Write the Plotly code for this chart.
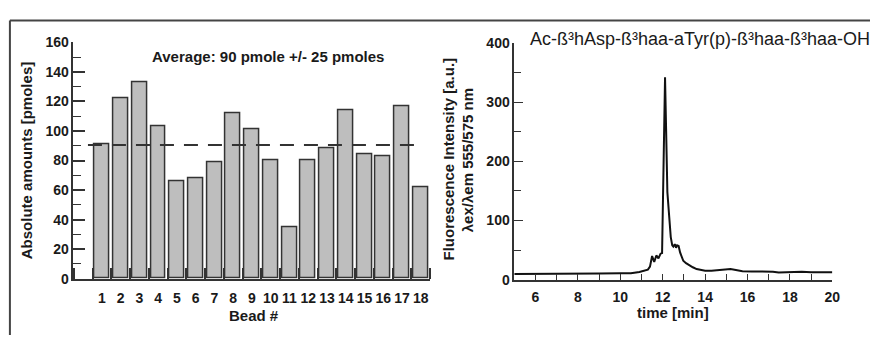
import plotly.graph_objects as go

# ---- Left panel data ----
beads = list(range(1, 19))
amounts = [91, 122, 133, 103, 66, 68, 79, 112, 101, 80, 35, 80, 88, 114, 84, 83, 117, 62]
average_level = 90.5
average_span = [0.25, 17.85]
left_yticks = [0, 20, 40, 60, 80, 100, 120, 140, 160]

# ---- Right panel data ----
time_min = [5.0, 6.0, 7.0, 7.5, 8.0, 9.0, 10.0, 10.5, 10.9, 11.1, 11.3, 11.4, 11.5, 11.6,
            11.7, 11.8, 11.9, 11.97, 12.03, 12.08, 12.11, 12.16, 12.22, 12.31, 12.38, 12.45,
            12.5, 12.57, 12.63, 12.68, 12.75, 12.82, 12.9, 12.97, 13.1, 13.25, 13.42, 13.6,
            13.8, 14.0, 14.3, 14.67, 15.0, 15.2, 15.45, 15.76, 16.2, 16.6, 17.0, 17.2, 17.47,
            17.8, 18.2, 18.56, 19.0, 19.5, 20.0]
intensity = [9.5, 9.5, 10, 10.5, 10.5, 10.5, 10.8, 11, 13, 15, 17, 22, 40, 30,
             41, 36, 44, 45, 170, 300, 342, 255, 148, 105, 72, 58,
             56, 60, 54, 58, 57, 46, 38, 32, 28, 24, 21, 18,
             16, 15, 15, 16, 16.5, 18, 16.5, 14.5, 14, 14, 14.5, 13.5, 12,
             12.5, 13, 13.4, 12.5, 13, 12.4]
right_yticks = [0, 100, 200, 300, 400]
right_xticks = [6, 8, 10, 12, 14, 16, 18, 20]

FONT = "Arial, Liberation Sans, sans-serif"
DARK = "#333333"
TXT = "#1a1a1a"

fig = go.Figure()

fig.add_trace(go.Bar(
    x=beads, y=amounts, width=0.79,
    marker=dict(color="#BEBEBE", line=dict(color=DARK, width=1.5)),
    xaxis="x", yaxis="y", showlegend=False, hoverinfo="skip",
))
fig.add_trace(go.Scatter(
    x=average_span, y=[average_level, average_level], mode="lines",
    line=dict(color=DARK, width=2, dash="14px,10px"),
    xaxis="x", yaxis="y", showlegend=False, hoverinfo="skip",
))
fig.add_trace(go.Scatter(
    x=time_min, y=intensity, mode="lines",
    line=dict(color="#111111", width=2),
    xaxis="x2", yaxis="y2", showlegend=False, hoverinfo="skip",
))

W, H = 878, 343
tickfont = dict(family=FONT, size=14, color=TXT, weight="bold")

fig.update_layout(
    width=W, height=H,
    margin=dict(l=0, r=0, t=0, b=0),
    paper_bgcolor="white", plot_bgcolor="white",
    bargap=0,
    xaxis=dict(
        domain=[74 / W, 434 / W], range=[-0.53, 18.5],
        tickmode="array", tickvals=beads, ticktext=[str(b) for b in beads],
        ticks="", showgrid=False, zeroline=False,
        showline=True, linecolor=DARK, linewidth=1.5,
        tickfont=tickfont, ticklabelstandoff=6,
        minor=dict(tick0=0.5, dtick=1, ticks="inside", ticklen=11,
                   tickcolor=DARK, tickwidth=1.5, showgrid=False),
        anchor="y",
    ),
    yaxis=dict(
        domain=[1 - 284 / H, 1 - 36 / H], range=[0, 160],
        tickmode="array", tickvals=left_yticks,
        ticks="inside", ticklen=12, tickcolor=DARK, tickwidth=1.5,
        showgrid=False, zeroline=False,
        showline=True, linecolor=DARK, linewidth=1.5,
        tickfont=tickfont,
        minor=dict(dtick=10, tick0=0, ticks="inside", ticklen=8,
                   tickcolor=DARK, tickwidth=1.2, showgrid=False),
        anchor="x",
    ),
    xaxis2=dict(
        domain=[519 / W, 840 / W], range=[5, 20],
        tickmode="array", tickvals=right_xticks,
        ticks="inside", ticklen=6, tickcolor=DARK, tickwidth=1.2,
        showgrid=False, zeroline=False,
        showline=True, linecolor=DARK, linewidth=1.5,
        tickfont=tickfont, ticklabelstandoff=4,
        minor=dict(dtick=1, tick0=5, ticks="inside", ticklen=6,
                   tickcolor=DARK, tickwidth=1.2, showgrid=False),
        anchor="y2",
    ),
    yaxis2=dict(
        domain=[1 - 285 / H, 1 - 36.7 / H], range=[0, 400],
        tickmode="array", tickvals=right_yticks,
        ticks="inside", ticklen=9, tickcolor=DARK, tickwidth=1.2,
        showgrid=False, zeroline=False,
        showline=True, linecolor=DARK, linewidth=1.5,
        tickfont=tickfont,
        minor=dict(dtick=50, tick0=0, ticks="inside", ticklen=7,
                   tickcolor=DARK, tickwidth=1.2, showgrid=False),
        anchor="x2",
    ),
)

bold = dict(family=FONT, size=15, color=TXT, weight="bold")
annots = [
    dict(text="Average: 90 pmole +/- 25 pmoles", x=270 / W, y=1 - 51 / H, font=bold),
    dict(text="Bead #", x=256 / W, y=1 - 323 / H, font=bold),
    dict(text="Absolute amounts [pmoles]", x=27 / W, y=1 - 160 / H, font=bold, textangle=-90),
    dict(text="time [min]", x=679 / W, y=1 - 319 / H, font=bold),
    dict(text="Fluorescence Intensity [a.u.]", x=453 / W, y=1 - 158 / H, font=bold, textangle=-90),
    dict(text="λex/λem 555/575 nm", x=472 / W, y=1 - 160 / H, font=bold, textangle=-90),
    dict(text="Ac-ß³hAsp-ß³haa-aTyr(p)-ß³haa-ß³haa-OH", x=706 / W, y=1 - 33 / H,
         font=dict(family=FONT, size=18, color=TXT)),
]
for a in annots:
    fig.add_annotation(xref="paper", yref="paper", showarrow=False,
                       xanchor="center", yanchor="middle", **a)

# outer frame (top and left edges visible in the reference)
fig.add_shape(type="line", xref="paper", yref="paper", x0=10 / W, x1=1.0,
              y0=1 - 13 / H, y1=1 - 13 / H, line=dict(color="#444444", width=2))
fig.add_shape(type="line", xref="paper", yref="paper", x0=10 / W, x1=10 / W,
              y0=0, y1=1 - 13 / H, line=dict(color="#444444", width=2))

fig.write_html("out.html", config={"displayModeBar": False},
               post_script="document.body.style.margin='0';document.body.style.overflow='hidden';")
